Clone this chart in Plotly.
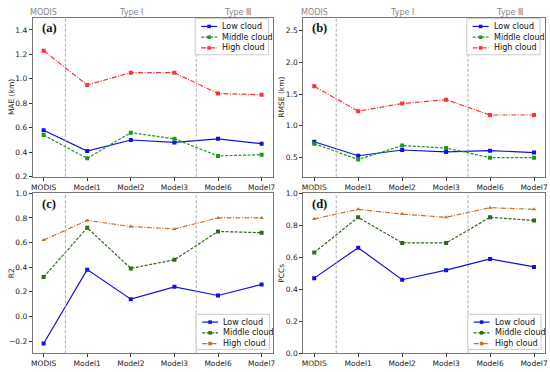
import plotly.graph_objects as go

categories = ["MODIS", "Model1", "Model2", "Model3", "Model6", "Model7"]

mae_low = [0.58, 0.41, 0.50, 0.48, 0.51, 0.47]
mae_mid = [0.54, 0.35, 0.56, 0.51, 0.37, 0.38]
mae_high = [1.23, 0.95, 1.05, 1.05, 0.88, 0.87]

rmse_low = [0.75, 0.53, 0.62, 0.59, 0.61, 0.58]
rmse_mid = [0.72, 0.47, 0.69, 0.65, 0.50, 0.50]
rmse_high = [1.62, 1.23, 1.35, 1.41, 1.17, 1.17]

r2_low = [-0.22, 0.38, 0.14, 0.24, 0.17, 0.26]
r2_mid = [0.32, 0.72, 0.39, 0.46, 0.69, 0.68]
r2_high = [0.62, 0.78, 0.73, 0.71, 0.80, 0.80]

pcc_low = [0.47, 0.66, 0.46, 0.52, 0.59, 0.54]
pcc_mid = [0.63, 0.85, 0.69, 0.69, 0.85, 0.83]
pcc_high = [0.84, 0.90, 0.87, 0.85, 0.91, 0.90]

series_names = ["Low cloud", "Middle cloud", "High cloud"]
group_labels = ["MODIS", "Type I", "Type Ⅲ"]
group_pos = [0, 2, 4.45]
divider_pos = [0.5, 3.5]

W, H = 550, 372
FONT = "DejaVu Sans"

panels = [
    dict(label="(a)", title="MAE (km)", data=[mae_low, mae_mid, mae_high],
         yr=[0.2, 1.5], tv=[0.2, 0.4, 0.6, 0.8, 1.0, 1.2, 1.4],
         px=(31, 273), py=(14, 177), leg=(195, 15, 269, 52), titlex=9,
         high_color="#ff3030", mid_color="#1a9a1a"),
    dict(label="(b)", title="RMSE (km)", data=[rmse_low, rmse_mid, rmse_high],
         yr=[0.2, 2.7], tv=[0.5, 1.0, 1.5, 2.0, 2.5],
         px=(304, 548), py=(14, 177), leg=(469, 15, 543, 52), titlex=282,
         high_color="#ff3030", mid_color="#1a9a1a"),
    dict(label="(c)", title="R2", data=[r2_low, r2_mid, r2_high],
         yr=[-0.3, 1.0], tv=[-0.2, 0.0, 0.2, 0.4, 0.6, 0.8, 1.0],
         px=(31, 273), py=(194, 358), leg=(196, 318, 270, 354), titlex=9,
         high_color="#c8702a", mid_color="#2d6a1a"),
    dict(label="(d)", title="PCCs", data=[pcc_low, pcc_mid, pcc_high],
         yr=[0.0, 1.0], tv=[0.0, 0.2, 0.4, 0.6, 0.8, 1.0],
         px=(304, 548), py=(194, 358), leg=(470, 318, 544, 354), titlex=282,
         high_color="#c8702a", mid_color="#2d6a1a"),
]

fig = go.Figure()
xs = list(range(len(categories)))


def px2x(v):
    return v / W


def px2y(v):
    return 1 - v / H


DASHES = ["solid", "3px,1.5px", "5px,1.5px,1px,1.5px"]

for i, p in enumerate(panels):
    n = i + 1
    xa = "x" if n == 1 else f"x{n}"
    ya = "y" if n == 1 else f"y{n}"
    colors = ["#1010e0", p["mid_color"], p["high_color"]]
    symbols = ["square", "square", "triangle-up" if n > 2 else "square"]
    for s, name in enumerate(series_names):
        fig.add_trace(go.Scatter(
            x=xs, y=p["data"][s], name=name, mode="lines+markers",
            line=dict(color=colors[s], width=1.2, dash=DASHES[s]),
            marker=dict(color=colors[s], size=4, symbol=symbols[s]),
            xaxis=xa, yaxis=ya, showlegend=False))
    x0, x1 = px2x(p["px"][0]), px2x(p["px"][1])
    y0, y1 = px2y(p["py"][1]), px2y(p["py"][0])
    axkey = "xaxis" if n == 1 else f"xaxis{n}"
    aykey = "yaxis" if n == 1 else f"yaxis{n}"
    fig.update_layout(**{
        axkey: dict(domain=[x0, x1], range=[-0.25, 5.25], anchor=ya,
                    tickvals=xs, ticktext=categories, ticks="outside", ticklen=3,
                    tickcolor="#333", showgrid=False, zeroline=False,
                    showline=True, linecolor="#777", linewidth=1, mirror=True,
                    tickfont=dict(size=7.5, family=FONT, color="#222")),
        aykey: dict(domain=[y0, y1], range=p["yr"], anchor=xa,
                    tickvals=p["tv"], ticktext=[f"{v:.1f}".replace("-", "−") for v in p["tv"]],
                    ticks="outside", ticklen=3, tickcolor="#333", showgrid=False, zeroline=False,
                    showline=True, linecolor="#777", linewidth=1, mirror=True,
                    tickfont=dict(size=7.5, family=FONT, color="#222")),
    })
    # y-axis title
    fig.add_annotation(text=p["title"], xref="paper", yref="paper", x=px2x(p["titlex"]),
                       y=(y0 + y1) / 2, textangle=-90, showarrow=False,
                       xanchor="center", yanchor="middle",
                       font=dict(size=7.5, family=FONT, color="#222"))
    for d in divider_pos:
        fig.add_shape(type="line", xref=xa, yref=f"{ya} domain", x0=d, x1=d, y0=0, y1=1,
                      line=dict(color="#aaa", width=1, dash="3px,2px"))
    fig.add_annotation(text=f"<b>{p['label']}</b>", xref=f"{xa} domain", yref=f"{ya} domain",
                       x=0.03, y=0.99, xanchor="left", yanchor="top", showarrow=False,
                       font=dict(size=12.5, family="Liberation Serif", color="#111"))
    if n <= 2:
        for lbl, gp in zip(group_labels, group_pos):
            fig.add_annotation(text=lbl, xref=xa, yref=f"{ya} domain", x=gp, y=1.0,
                               xanchor="center", yanchor="bottom", showarrow=False, yshift=-1,
                               font=dict(size=8, family=FONT, color="#888"))
    # legend box (drawn as layout decoration)
    lx0, ly0, lx1, ly1 = p["leg"]
    fig.add_shape(type="rect", xref="paper", yref="paper",
                  x0=px2x(lx0), x1=px2x(lx1), y0=px2y(ly1), y1=px2y(ly0),
                  line=dict(color="#cccccc", width=1), fillcolor="rgba(255,255,255,0.85)")
    for s, name in enumerate(series_names):
        yy = ly0 + 8 + s * 11
        sx0, sx1 = lx0 + 6, lx0 + 22
        fig.add_shape(type="line", xref="paper", yref="paper",
                      x0=px2x(sx0), x1=px2x(sx1), y0=px2y(yy), y1=px2y(yy),
                      line=dict(color=colors[s], width=1.2, dash=DASHES[s]))
        mx = (sx0 + sx1) / 2
        fig.add_shape(type="rect", xref="paper", yref="paper",
                      x0=px2x(mx - 1.8), x1=px2x(mx + 1.8), y0=px2y(yy + 1.8), y1=px2y(yy - 1.8),
                      line=dict(width=0), fillcolor=colors[s])
        fig.add_annotation(text=name, xref="paper", yref="paper", x=px2x(lx0 + 25), y=px2y(yy),
                           xanchor="left", yanchor="middle", showarrow=False,
                           font=dict(size=8, family=FONT, color="#111"))

fig.update_layout(width=W, height=H, margin=dict(l=0, r=0, t=0, b=0),
                  paper_bgcolor="white", plot_bgcolor="white", showlegend=False)

fig.write_html("out.html", config={"displayModeBar": False},
               post_script="document.body.style.margin='0';document.body.style.overflow='hidden';")
